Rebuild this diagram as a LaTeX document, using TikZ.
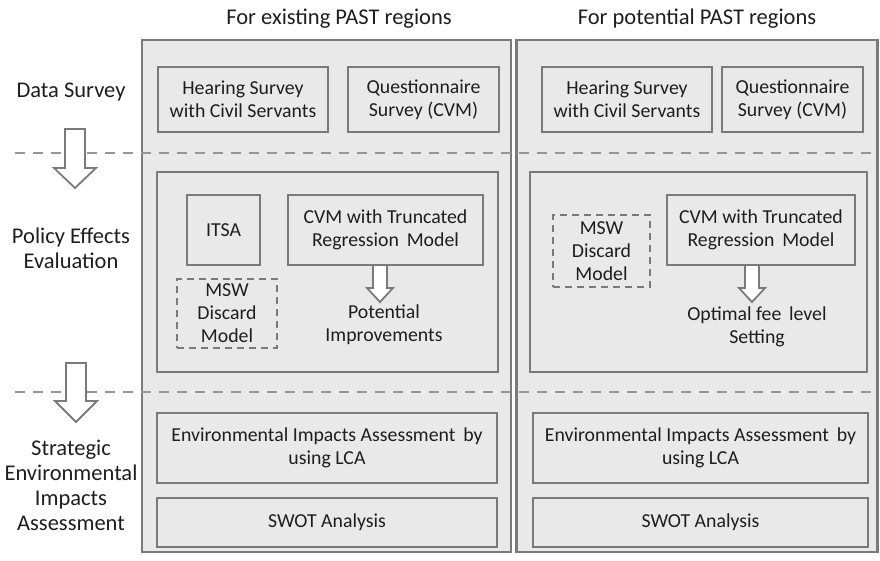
\documentclass[tikz,border=0pt]{standalone}
\usepackage{fontspec}
\setmainfont{Carlito}
\definecolor{PASTline}{HTML}{7A7A7A}
\definecolor{PASTfill}{HTML}{E9E9E9}
\definecolor{PASTtext}{HTML}{1E1E1E}
\usetikzlibrary{positioning}

\newcommand{\hollowarrow}[6]{%
  \draw[arrowbox] (#1-#5,#2) -- (#1+#5,#2) -- (#1+#5,#3) -- (#1+#6,#3)
    -- (#1,#4) -- (#1-#6,#3) -- (#1-#5,#3) -- cycle;}

\begin{document}
\begin{tikzpicture}[x=1pt, y=-1pt,
    every node/.style={font=\fontsize{19.8}{23}\selectfont, text=PASTtext, align=center},
    rowlabel/.style={font=\fontsize{22.5}{25}\selectfont},
    panel/.style={draw=PASTline, line width=2.4pt, fill=PASTfill, inner sep=0pt},
    methodbox/.style={draw=PASTline, line width=2pt, fill=PASTfill, inner sep=0pt},
    optbox/.style={methodbox, dashed, dash pattern=on 7pt off 5pt},
    rowsep/.style={draw=PASTline!80, line width=1.8pt, dash pattern=on 10pt off 8pt},
    arrowbox/.style={draw=PASTline, line width=1.8pt, fill=white}]
  \useasboundingbox (0,0) rectangle (880,561);
  % Columns
  \node[panel, minimum width=369, minimum height=512] (colL) at (326.5,296) {};
  \node[panel, minimum width=361, minimum height=512] (colR) at (697,296) {};
  \node[rowlabel] (headL) at (339,19) {For existing PAST regions};
  \node[rowlabel] (headR) at (697,19) {For potential PAST regions};
  % Row separators
  \draw[rowsep] (15,153) -- (877,153);
  \draw[rowsep] (15,392) -- (877,392);
  % Row labels
  \node[rowlabel] (rowData) at (71,92) {Data Survey};
  \node[rowlabel] (rowPolicy) at (71,248) {Policy Effects\\Evaluation};
  \node[rowlabel] (rowSEA) at (71,485) {Strategic\\Environmental\\Impacts\\Assessment};
  \hollowarrow{75}{129}{168}{188}{10}{21}
  \hollowarrow{76}{363}{401}{422}{10}{21}
  % Data survey
  \node[methodbox, minimum width=170, minimum height=65] (hearL) at (243,99.5) {Hearing Survey\\with Civil Servants};
  \node[methodbox, minimum width=151, minimum height=65] (questL) at (423.5,99.5) {Questionnaire\\Survey (CVM)};
  \node[methodbox, minimum width=170, minimum height=65] (hearR) at (627,99.5) {Hearing Survey\\with Civil Servants};
  \node[methodbox, minimum width=141, minimum height=65] (questR) at (792.5,99.5) {Questionnaire\\Survey (CVM)};
  % Policy effects evaluation
  \node[methodbox, minimum width=341, minimum height=200] (evalL) at (327.5,272) {};
  \node[methodbox, minimum width=337, minimum height=200] (evalR) at (698.5,272) {};
  \node[methodbox, minimum width=73, minimum height=70] (itsa) at (223.5,230) {ITSA};
  \node[methodbox, minimum width=195, minimum height=70] (cvmL) at (385.5,230) {CVM with Truncated\\Regression\ \,Model};
  \node[optbox, minimum width=100, minimum height=69] (mswL) at (227,313.5) {MSW\\Discard\\Model};
  \node (improve) at (384,325) {Potential\\Improvements};
  \hollowarrow{380}{265}{288}{302}{7}{13}
  \node[optbox, minimum width=97, minimum height=72] (mswR) at (601.5,251) {MSW\\Discard\\Model};
  \node[methodbox, minimum width=188, minimum height=70] (cvmR) at (761,230) {CVM with Truncated\\Regression\ \,Model};
  \node (feeset) at (757,327) {Optimal fee\ \,level\\Setting};
  \hollowarrow{752}{265}{288}{302}{7}{13}
  % Strategic environmental impacts assessment
  \node[methodbox, minimum width=340, minimum height=70] (lcaL) at (327,448) {Environmental Impacts Assessment\ \,by\\using LCA};
  \node[methodbox, minimum width=340, minimum height=49] (swotL) at (327,522.5) {SWOT Analysis};
  \node[methodbox, minimum width=335, minimum height=70] (lcaR) at (700.5,448) {Environmental Impacts Assessment\ \,by\\using LCA};
  \node[methodbox, minimum width=335, minimum height=49] (swotR) at (700.5,522.5) {SWOT Analysis};
\end{tikzpicture}
\end{document}
